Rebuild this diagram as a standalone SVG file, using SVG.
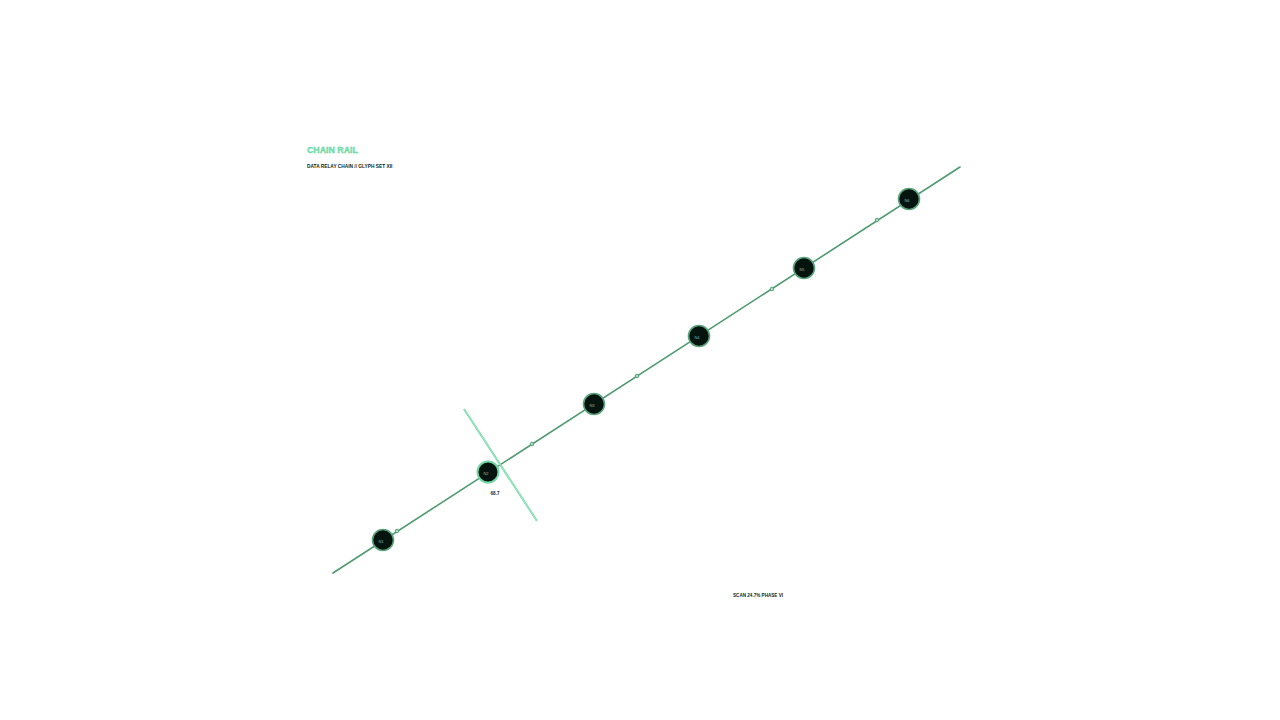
<svg xmlns="http://www.w3.org/2000/svg" width="1280" height="720" viewBox="0 0 1280 720">
<style>
.rail{stroke:#4f9a70;stroke-width:1.6;fill:none;stroke-linecap:round}
.tick{fill:#a9dcc0;stroke:#4f9a70;stroke-width:0.9}
.node circle{fill:#06140f;stroke:#5aa37c;stroke-width:1.6}
.node text{font-family:"Liberation Sans",Arial,sans-serif;font-size:4px;fill:#8fb8a2;text-anchor:middle;dominant-baseline:central}
.t{font-family:"Liberation Sans",Arial,sans-serif;font-weight:bold}
</style>
<rect width="1280" height="720" fill="#ffffff"/>
<text class="t" x="307" y="153" font-size="8.8" fill="#7fe3b3" stroke="#4fcf92" stroke-width="0.3">CHAIN RAIL</text>
<text class="t" x="307" y="168" font-size="4.8" fill="#0c2a1e">DATA RELAY CHAIN // GLYPH SET XII</text>
<g id="connectors">
<line class="rail" x1="333" y1="573" x2="960" y2="167"/>
<line x1="464" y1="409" x2="537" y2="521" stroke="#6fd6a4" stroke-width="2"/>
<line x1="464" y1="409" x2="537" y2="521" stroke="#c9f1dc" stroke-width="0.6"/>
<circle class="tick" cx="397" cy="531" r="1.8"/>
<circle class="tick" cx="532" cy="444" r="1.8"/>
<circle class="tick" cx="637" cy="376" r="1.8"/>
<circle class="tick" cx="772" cy="289" r="1.8"/>
<circle class="tick" cx="877" cy="220" r="1.8"/>
</g>
<g id="n1" class="node"><circle cx="383" cy="540" r="10.5"/><text x="381" y="541">N1</text></g>
<g id="n2" class="node"><circle cx="488" cy="472" r="10.5" style="stroke:#6fd6a4;stroke-width:2"/><text x="486" y="473">N2</text></g>
<g id="n3" class="node"><circle cx="594" cy="404" r="10.5"/><text x="592" y="405">N3</text></g>
<g id="n4" class="node"><circle cx="699" cy="336" r="10.5"/><text x="697" y="337">N4</text></g>
<g id="n5" class="node"><circle cx="804" cy="268" r="10.5"/><text x="802" y="269">N5</text></g>
<g id="n6" class="node"><circle cx="909" cy="199" r="10.5"/><text x="907" y="200">N6</text></g>
<text class="t" x="495" y="495" font-size="4.6" fill="#0c2a1e" text-anchor="middle">68.7</text>
<text class="t" x="733" y="597" font-size="4.6" fill="#0c2a1e">SCAN 24.7% PHASE VI</text>
</svg>
